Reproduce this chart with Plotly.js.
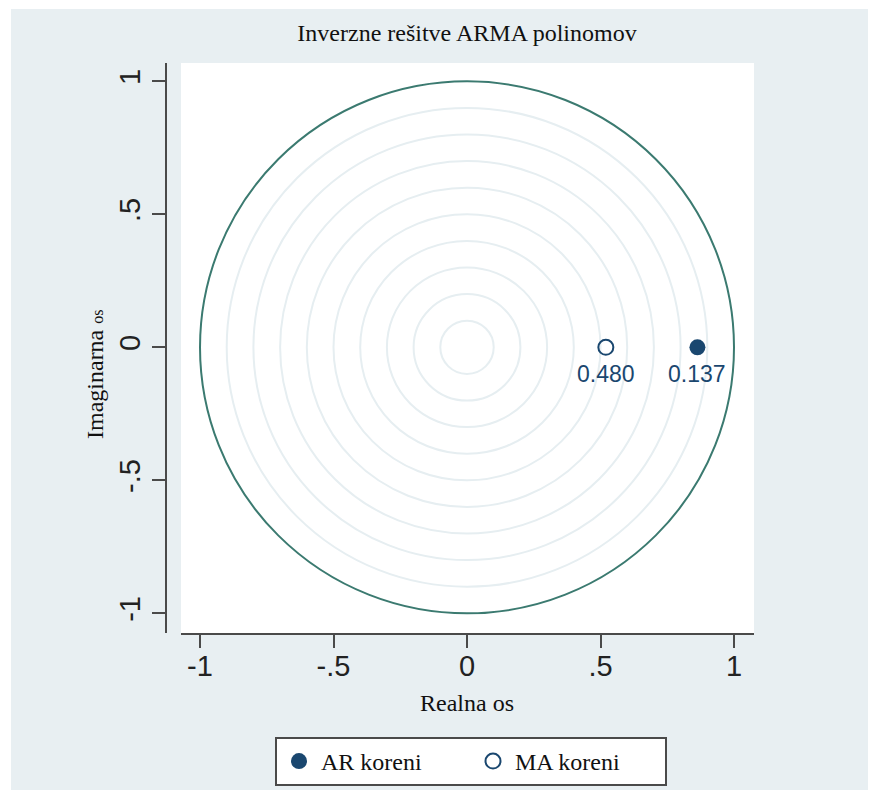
<!DOCTYPE html>
<html>
<head>
<meta charset="utf-8">
<script src="https://cdn.plot.ly/plotly-3.0.1.min.js"></script>
<style>
  html, body { margin: 0; padding: 0; background: #ffffff; }
  #chart { position: absolute; left: 11px; top: 9px; width: 857px; height: 781px; }
</style>
</head>
<body>
<div id="chart"></div>
<script>
// Inverse roots of the ARMA polynomials: distance of each root from the unit circle
const arDistance = [0.137];
const arImag = [0];
const maDistance = [0.480];
const maImag = [0];

// Reference circles (moduli) drawn inside the unit circle
const gridRadii = [0.1, 0.2, 0.3, 0.4, 0.5, 0.6, 0.7, 0.8, 0.9];
const unitRadius = [1];

const tickVals = [-1, -0.5, 0, 0.5, 1];
const tickText = ['-1', '-.5', '0', '.5', '1'];

const seriesNames = ['AR koreni', 'MA koreni'];

const navy = '#1a476f';
const bg = '#e8eff2';
const axisCol = '#4a4a4a';

// modulus = 1 - distance from the unit circle (roots lie on the real axis)
const arReal = arDistance.map(d => 1 - d);
const maReal = maDistance.map(d => 1 - d);

const traces = [
  {
    x: arReal, y: arImag, name: seriesNames[0],
    type: 'scatter', mode: 'markers',
    marker: { symbol: 'circle', size: 16, color: navy },
    cliponaxis: false, hoverinfo: 'skip'
  },
  {
    x: maReal, y: maImag, name: seriesNames[1],
    type: 'scatter', mode: 'markers',
    marker: { symbol: 'circle-open', size: 15, color: navy, line: { width: 2, color: navy } },
    cliponaxis: false, hoverinfo: 'skip'
  }
];

const shapes = [];
gridRadii.forEach(r => shapes.push({
  type: 'circle', xref: 'x', yref: 'y', layer: 'below',
  x0: -r, x1: r, y0: -r, y1: r,
  line: { color: '#e6eef1', width: 2 }
}));
unitRadius.forEach(r => shapes.push({
  type: 'circle', xref: 'x', yref: 'y', layer: 'below',
  x0: -r, x1: r, y0: -r, y1: r,
  line: { color: '#3b7a70', width: 2 }
}));

const tickFont = { family: 'Liberation Sans, Arial, sans-serif', size: 29, color: '#222' };
const serif = 'Liberation Serif, Times New Roman, serif';
const labelFont = { family: 'Liberation Sans, Arial, sans-serif', size: 23, color: navy };

// value labels under each root marker
const rootLabels = [];
arReal.forEach((x, i) => rootLabels.push({
  x: x, y: arImag[i], xref: 'x', yref: 'y', text: arDistance[i].toFixed(3),
  showarrow: false, yshift: -27, xanchor: 'center', yanchor: 'middle', font: labelFont
}));
maReal.forEach((x, i) => rootLabels.push({
  x: x, y: maImag[i], xref: 'x', yref: 'y', text: maDistance[i].toFixed(3),
  showarrow: false, yshift: -27, xanchor: 'center', yanchor: 'middle', font: labelFont
}));

const layout = {
  width: 857, height: 781,
  paper_bgcolor: bg, plot_bgcolor: '#ffffff',
  margin: { l: 155, r: 114, t: 54, b: 157, pad: 0 },
  showlegend: true,
  title: {
    text: 'Inverzne rešitve ARMA polinomov',
    font: { family: serif, size: 24, color: '#111' },
    x: (467 - 166) / 588, xref: 'paper', xanchor: 'center',
    y: 1 - 24 / 781, yref: 'container', yanchor: 'middle'
  },
  xaxis: {
    domain: [15 / 588, 1],
    range: [-1.0712, 1.0749],
    tickvals: tickVals, ticktext: tickText,
    ticks: 'outside', ticklen: 13, tickwidth: 2, tickcolor: axisCol,
    ticklabelstandoff: -7,
    showline: true, linecolor: axisCol, linewidth: 2,
    showgrid: false, zeroline: false,
    tickfont: tickFont,
    fixedrange: true
  },
  yaxis: {
    anchor: 'free', position: 0,
    range: [-1.074, 1.0688],
    tickvals: tickVals, ticktext: tickText,
    tickangle: -90,
    ticks: 'outside', ticklen: 13, tickwidth: 2, tickcolor: axisCol,
    showline: true, linecolor: axisCol, linewidth: 2,
    showgrid: false, zeroline: false,
    tickfont: tickFont,
    fixedrange: true
  },
  annotations: rootLabels.concat([
    {
      text: 'Realna os', xref: 'paper', yref: 'paper',
      x: (467 - 166) / 588, y: (633 - 703) / 570,
      xanchor: 'center', yanchor: 'middle', showarrow: false,
      font: { family: serif, size: 24, color: '#111' }
    },
    {
      text: 'Imaginarna <span style="font-size:16px">os</span>',
      xref: 'paper', yref: 'paper',
      x: (95 - 166) / 588, y: (633 - 374) / 570,
      xanchor: 'center', yanchor: 'middle', textangle: -90, showarrow: false,
      font: { family: serif, size: 24, color: '#111' }
    }
  ]),
  legend: {
    orientation: 'h',
    xref: 'container', yref: 'container',
    x: (275 - 11) / 857, y: 1 - (737 - 9) / 781,
    xanchor: 'left', yanchor: 'top',
    bgcolor: '#ffffff', bordercolor: axisCol, borderwidth: 2,
    font: { family: serif, size: 24, color: '#111' },
    itemwidth: 34,
    entrywidth: 145, entrywidthmode: 'pixels',
    traceorder: 'normal'
  },
  shapes: shapes
};

Plotly.newPlot('chart', traces, layout, { displayModeBar: false, staticPlot: true });
</script>
</body>
</html>
